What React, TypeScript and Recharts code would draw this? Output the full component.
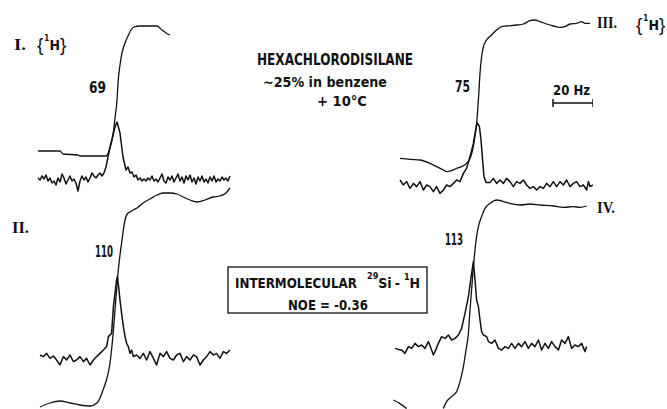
import { LineChart, Line, XAxis, YAxis, ReferenceLine } from 'recharts';

// x = offset in Hz from the left edge of each trace, v = pen height (arbitrary units)
const spectrumI = [
  [1, 11], [2, 10], [3, 12], [4, 10.5], [5, 12.5], [6, 9.5], [7, 11], [8, 8.5], [9, 9.5], [10, 7.5],
  [11, 11], [12, 9], [13, 13], [14, 11], [15, 8], [16, 10], [17, 12], [18, 9.5], [19, 10.5], [20, 8.5],
  [21, 4.5], [22, 9.5], [23, 12], [24, 10], [25, 11.5], [26, 9], [27, 11], [28, 13.5], [29, 12], [30, 11],
  [31, 12.5], [32, 13.5], [33, 12], [34, 13.5], [35, 16.5], [37, 26.5], [39.5, 36.5], [40.5, 39], [42, 33.5],
  [43.5, 21.5], [45, 15], [46, 16.5], [47, 13.5], [48, 14], [49, 11.5], [50, 12.5], [51, 10], [52, 11],
  [53, 9.5], [54, 10.5], [55, 9.5], [56, 11], [57, 10], [58, 12], [59, 9.5], [60, 10.5], [61, 9], [62, 11],
  [63, 13], [64, 9.5], [65, 8.5], [66, 11.5], [67, 10], [68, 12], [69, 9], [70, 11], [71, 13], [72, 9.5],
  [73, 11.5], [74, 8.5], [75, 12], [76, 10], [77, 12.5], [78, 9], [79, 11], [80, 8], [81, 11.5], [82, 9.5],
  [83, 12], [84, 9], [85, 10.5], [86, 8.5], [87, 11.5], [88, 9.5], [89, 12], [90, 9], [91, 10.5], [92, 9.5],
  [93, 11.5], [94, 10], [95, 11], [96, 9.5], [97, 12],
];
const integralI = [
  [1, 24.5], [12, 24.5], [13.5, 23], [21, 22.5], [22, 22], [35, 22], [37, 26], [38.5, 32.5], [39.5, 41],
  [40.5, 50], [41, 58.5], [42, 67.5], [43, 73.5], [44.5, 78.5], [46, 82], [47.5, 85], [49, 86.5], [52, 87],
  [57, 87], [60.5, 87], [63, 85], [65, 83.5], [67, 82.5],
];

const spectrumII = [
  [2, 27], [3.7, 26.2], [5.3, 27.8], [7, 25.3], [8.7, 26.5], [10.3, 24.5], [12, 22], [13.7, 26.2], [15.3, 24.5],
  [17, 27], [18.7, 23.7], [20.3, 24.5], [22, 26.2], [23.7, 23.7], [25.3, 25.3], [27, 22], [28.7, 24.5],
  [30.3, 26.2], [32, 27.8], [33.7, 29.5], [35.3, 31.2], [36.2, 36.2], [37.8, 37.8], [38.7, 51.2], [39.5, 57.8],
  [40.3, 64.5], [40.7, 66.2], [41.3, 61.2], [42, 54.5], [42.8, 47.8], [43.7, 41.2], [44.5, 36.2], [45.3, 32.8],
  [46.2, 31.2], [47, 27.8], [47.8, 29.5], [48.7, 26.2], [50.3, 27], [52, 25.3], [53.7, 27.8], [55.3, 24.5],
  [57, 28.7], [58.7, 25.3], [60.3, 22], [62, 27.8], [63.7, 26.2], [65.3, 28.7], [67, 25.3], [68.7, 24.5],
  [70.3, 27], [72, 27.8], [73.7, 23.7], [75.3, 26.2], [77, 24.5], [78.7, 27], [80.3, 26.2], [82, 22],
  [83.7, 24.5], [85.3, 26.2], [87, 28.7], [88.7, 27], [90.3, 27.8], [92, 25.3], [93.7, 28.7], [95.3, 27.8],
  [97, 29.5],
];
const integralII = [
  [2, 1], [7, 3], [12, 4], [17, 3], [22, 2], [27, 1.5], [30.5, 3], [32, 5.5], [33.5, 9.5], [35.5, 15.5],
  [37, 23], [38.5, 37], [39.5, 49.5], [40.5, 62], [41, 68], [42, 77], [43, 84.5], [44.5, 94.5], [46, 98],
  [47, 98.5], [48.5, 99.5], [50.5, 100.5], [53.5, 103], [57, 105], [60.5, 107], [63.5, 108], [67, 108],
  [70.5, 107.5], [73.5, 106], [77, 104.5], [80.5, 103.5], [84.5, 104.5], [88.5, 106], [92, 106.5], [95, 108],
  [97, 110.5],
];

const spectrumIII = [
  [3.5, 10], [5.2, 7.5], [6.8, 9.2], [8.5, 5.8], [10.2, 8.3], [11.8, 6.7], [13.5, 9.2], [15.2, 5], [16.8, 7.5],
  [18.5, 6.7], [20.2, 4.2], [21.8, 6.7], [23.5, 3.3], [25.2, 5], [26.8, 7.5], [28.5, 6.7], [30.2, 8.3],
  [31.8, 10], [33.5, 9.2], [35.2, 13.3], [36.8, 15.8], [38.5, 21.7], [40.2, 28.3], [41, 33.3], [41.8, 37.5],
  [42.3, 38.3], [43.2, 36.7], [44, 30], [44.8, 20], [45.5, 11.7], [46.5, 8.7], [48.5, 8.7], [50.2, 10.8],
  [51.8, 8.3], [53.5, 10], [55.2, 8.3], [56.8, 10.8], [58.5, 9.2], [60.2, 6.7], [61.8, 9.2], [63.5, 8.3],
  [65.2, 10], [66.8, 7.5], [68.5, 5.8], [70.2, 6.7], [71.8, 5], [73.5, 6.7], [75.2, 5.8], [76.8, 8.3],
  [78.5, 6.7], [80.2, 9.2], [81.8, 6.7], [83.5, 9.2], [85.2, 7.5], [86.8, 10], [88.5, 6.7], [90.2, 8.3],
  [91.8, 9.2], [93.5, 6.7], [95.2, 7.5], [96.8, 5], [97.7, 9.2], [98.5, 6.7], [100, 7.5],
];
const integralIII = [
  [3.5, 20.8], [8.5, 20.3], [13.5, 20], [18.5, 18.3], [21.8, 16.7], [25.2, 15], [26.8, 14.2], [29.3, 14.7],
  [31.8, 15.8], [34.3, 16.7], [36.8, 18.3], [38.5, 20.8], [39.8, 25], [40.7, 30], [41.8, 38.3], [42.7, 50],
  [43.5, 63.3], [44.3, 71.7], [45.2, 76.7], [46.8, 80], [49.3, 82.5], [51.8, 85], [54.3, 86.7], [56.8, 87],
  [61.8, 87.5], [65.2, 88], [68.5, 89.7], [71, 90], [73.5, 89.2], [76.8, 88], [80.2, 87], [83.5, 86.3],
  [86, 86.7], [88.5, 88], [91.8, 88.3], [94.3, 89.2], [96, 88.3], [98.5, 88.3],
];

const spectrumIV = [
  [1, 30.3], [2.7, 29.8], [4.3, 29.5], [6, 27.8], [7.7, 31.2], [9.3, 30.3], [11, 32.8], [12.7, 31.2],
  [14.3, 32], [16, 30.3], [17.7, 33.7], [19.3, 29.5], [20.2, 27], [21, 28.7], [22.7, 32.8], [24.3, 36.2],
  [26, 35.3], [27.7, 37], [29.3, 34.5], [31, 35.3], [32.7, 37], [34.3, 40.3], [36, 47.8], [37.7, 56.2],
  [39.3, 67.8], [40.2, 73.7], [41, 64.5], [41.8, 54.5], [42.7, 51.2], [43.5, 44.5], [44.3, 38.7], [45.2, 37],
  [46.8, 36.2], [47.7, 33.7], [49.3, 32.8], [51, 34.5], [52.7, 30.3], [54.3, 29.5], [56, 31.2], [57.7, 30.3],
  [59.3, 32.8], [61, 30.3], [62.7, 32.8], [64.3, 31.2], [66, 33.7], [67.7, 30.3], [69.3, 32.8], [71, 31.2],
  [72.7, 34.5], [74.3, 29.5], [76, 32.8], [77.7, 30.3], [79.3, 33.7], [81, 31.2], [82.7, 29.5], [84.3, 34.5],
  [86, 32.8], [87.7, 36.2], [89.3, 30.3], [91, 32], [92.7, 31.2], [94.3, 32.8], [96, 28.7], [96.8, 31.2],
];
const integralIV = [
  [25.2, 0.3], [26.8, 3.7], [29.3, 6.2], [31.8, 8.7], [33.5, 13.7], [35.2, 21.2], [36.5, 29.5], [37.7, 37.8],
  [38.5, 49.5], [39.3, 59.5], [40.2, 71.2], [41, 79.5], [41.8, 86.2], [42.7, 91.2], [44.3, 96.2], [46, 100.3],
  [48.5, 102.8], [51.8, 104.5], [55.2, 103.7], [58.5, 102.8], [63.5, 102], [68.5, 102.5], [73.5, 102],
  [80.2, 101.5], [85.2, 100.8], [90.2, 101.2], [93.5, 100.8], [96.8, 101.5],
];
const strayIV = [[0.2, 4.5], [3.3, 2.8], [6.8, 0.2]];

// 20 Hz scale bar on panel III
const scaleBar = { from: 80, to: 100, level: 48.5 };

const INK = '#111';

type Trace = { data: number[][]; width: number; smooth?: boolean };

function Panel({ left, top, height, yMax, traces, children }: {
  left: number; top: number; height: number; yMax: number; traces: Trace[]; children?: any;
}) {
  return (
    <div style={{ position: 'absolute', left, top }}>
      <LineChart width={200} height={height} margin={{ top: 0, right: 0, bottom: 0, left: 0 }}>
        <XAxis type="number" dataKey="hz" domain={[0, 100]} hide allowDataOverflow />
        <YAxis type="number" domain={[0, yMax]} hide allowDataOverflow />
        {traces.map((t, i) => (
          <Line
            key={i}
            data={t.data.map(([hz, v]) => ({ hz, v }))}
            dataKey="v"
            type={t.smooth ? 'monotone' : 'linear'}
            stroke={INK}
            strokeWidth={t.width}
            strokeLinejoin="round"
            dot={false}
            activeDot={false}
            isAnimationActive={false}
          />
        ))}
        {children}
      </LineChart>
    </div>
  );
}

const lbl = { fontFamily: "'DejaVu Sans Condensed', 'DejaVu Sans', sans-serif", fontWeight: 700, fill: INK };
const roman = { fontFamily: "'Liberation Serif', 'DejaVu Serif', serif", fontWeight: 700, fill: INK };
const braceFont = "'Liberation Sans', Arimo, sans-serif";

// "{¹H}" drawn as one text run
function ProtonTag({ x, y }: { x: number; y: number }) {
  return (
    <text x={x} y={y} fontSize={14} style={lbl}>
      <tspan fontFamily={braceFont} fontWeight={400} fontSize={19} dy={1}>{'{'}</tspan>
      <tspan fontSize={8} dy={-10} dx={1}>1</tspan>
      <tspan dy={9}>H</tspan>
      <tspan fontFamily={braceFont} fontWeight={400} fontSize={19} dy={1}>{'}'}</tspan>
    </text>
  );
}

export default function App() {
  return (
    <div style={{ position: 'fixed', left: 0, top: 0, width: 667, height: 409, background: '#fff', overflow: 'hidden' }}>
      <Panel left={36} top={0} height={200} yMax={100}
        traces={[{ data: spectrumI, width: 1.5 }, { data: integralI, width: 1.3, smooth: true }]} />
      <Panel left={36} top={185} height={224} yMax={112}
        traces={[{ data: spectrumII, width: 1.5 }, { data: integralII, width: 1.3, smooth: true }]} />
      <Panel left={393} top={0} height={200} yMax={100}
        traces={[{ data: spectrumIII, width: 1.5 }, { data: integralIII, width: 1.3, smooth: true }]}>
        <ReferenceLine segment={[{ x: scaleBar.from, y: scaleBar.level }, { x: scaleBar.to, y: scaleBar.level }]}
          stroke={INK} strokeWidth={1.5} ifOverflow="visible" />
        <ReferenceLine segment={[{ x: scaleBar.from, y: scaleBar.level - 2 }, { x: scaleBar.from, y: scaleBar.level + 2 }]}
          stroke={INK} strokeWidth={1.5} ifOverflow="visible" />
        <ReferenceLine segment={[{ x: scaleBar.to, y: scaleBar.level - 2 }, { x: scaleBar.to, y: scaleBar.level + 2 }]}
          stroke={INK} strokeWidth={1.5} ifOverflow="visible" />
      </Panel>
      <Panel left={393} top={185} height={224} yMax={112}
        traces={[{ data: spectrumIV, width: 1.5 }, { data: integralIV, width: 1.3, smooth: true }, { data: strayIV, width: 1.3, smooth: true }]} />

      <svg width={667} height={409} style={{ position: 'absolute', left: 0, top: 0, pointerEvents: 'none' }}>
        <text x={14} y={50} fontSize={17} style={roman} textLength={12} lengthAdjust="spacingAndGlyphs">I.</text>
        <ProtonTag x={37} y={50} />
        <text x={89} y={93} fontSize={15} style={lbl} textLength={17} lengthAdjust="spacingAndGlyphs">69</text>

        <text x={257} y={65} fontSize={15} style={lbl} textLength={156} lengthAdjust="spacingAndGlyphs">HEXACHLORODISILANE</text>
        <text x={263} y={87} fontSize={14} style={lbl} textLength={124} lengthAdjust="spacingAndGlyphs">~25% in benzene</text>
        <text x={317} y={106} fontSize={14} style={lbl} textLength={50} lengthAdjust="spacingAndGlyphs">+ 10°C</text>

        <text x={455} y={92} fontSize={15} style={lbl} textLength={15} lengthAdjust="spacingAndGlyphs">75</text>
        <text x={553} y={95} fontSize={14} style={lbl} textLength={37} lengthAdjust="spacingAndGlyphs">20 Hz</text>
        <text x={597} y={28} fontSize={17} style={roman} textLength={20} lengthAdjust="spacingAndGlyphs">III.</text>
        <ProtonTag x={636} y={30} />

        <text x={12} y={233} fontSize={17} style={roman} textLength={17} lengthAdjust="spacingAndGlyphs">II.</text>
        <text x={95} y={257} fontSize={15} style={lbl} textLength={18} lengthAdjust="spacingAndGlyphs">110</text>

        <rect x={228} y={267} width={199} height={46} fill="none" stroke={INK} strokeWidth={1.3} />
        <text x={235} y={288} fontSize={14} style={lbl} textLength={122} lengthAdjust="spacingAndGlyphs">INTERMOLECULAR</text>
        <text x={367} y={288} fontSize={14} style={lbl}>
          <tspan fontSize={9} dy={-9}>29</tspan>
          <tspan dy={9}>Si</tspan>
          <tspan dx={3}>-</tspan>
          <tspan fontSize={9} dy={-8} dx={4}>1</tspan>
          <tspan dy={8}>H</tspan>
        </text>
        <text x={288} y={310} fontSize={14} style={lbl} textLength={80} lengthAdjust="spacingAndGlyphs">NOE = -0.36</text>

        <text x={445} y={245} fontSize={15} style={lbl} textLength={18} lengthAdjust="spacingAndGlyphs">113</text>
        <text x={597} y={213} fontSize={17} style={roman} textLength={18} lengthAdjust="spacingAndGlyphs">IV.</text>
      </svg>
    </div>
  );
}
